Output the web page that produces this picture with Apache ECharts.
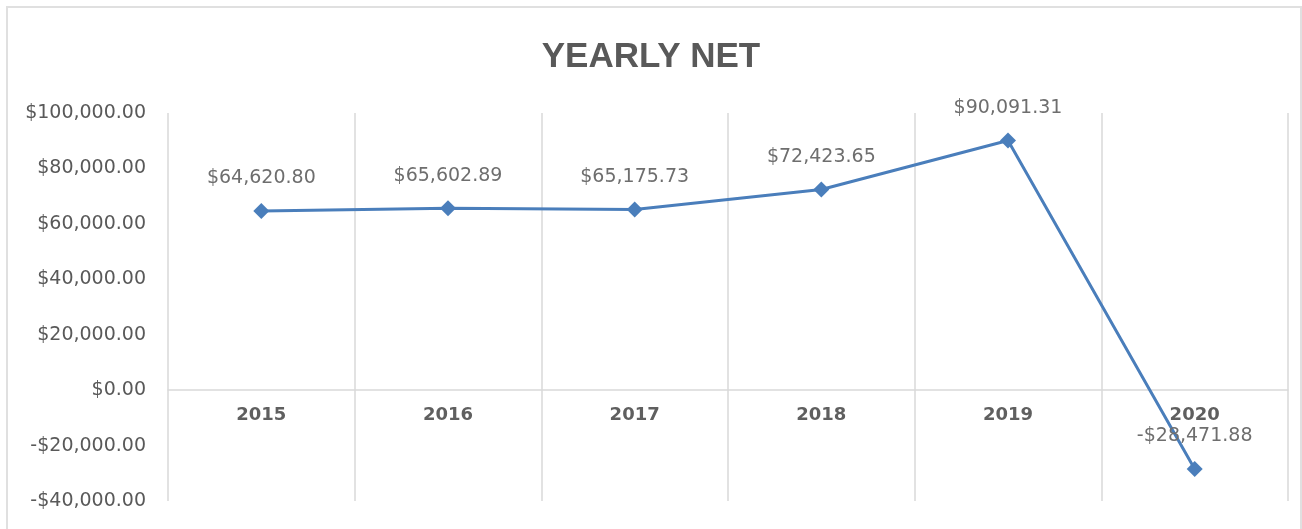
<!doctype html>
<html>
<head>
<meta charset="utf-8">
<title>Yearly Net</title>
<script src="https://cdn.jsdelivr.net/npm/echarts@6/dist/echarts.min.js"></script>
<style>
  html, body { margin: 0; padding: 0; background: #fff; }
  #frame { position: absolute; left: 6px; top: 6px; width: 1292px; height: 600px; border: 2px solid #e0e0e0; }
  #chart { position: absolute; left: 0; top: 0; width: 1302px; height: 529px; }
</style>
</head>
<body>
<div id="frame"></div>
<div id="chart"></div>
<script>
// data
let years = ['2015', '2016', '2017', '2018', '2019', '2020'];
let netValues = [64620.80, 65602.89, 65175.73, 72423.65, 90091.31, -28471.88];
let yMin = -40000, yMax = 100000, yStep = 20000;

let gridTop = 113, gridBottom = 28, chartH = 529;

function money(v) {
    let s = Math.abs(v).toLocaleString('en-US', { minimumFractionDigits: 2, maximumFractionDigits: 2 });
    return (v < 0 ? '-$' : '$') + s;
}

// the category axis sits on the zero line, labels just below it
let plotH = chartH - gridTop - gridBottom;
let belowZero = plotH * (0 - yMin) / (yMax - yMin);

let chart = echarts.init(document.getElementById('chart'));
let option = {
    backgroundColor: 'transparent',
    animation: false,
    title: {
        text: 'YEARLY NET',
        left: 'center',
        top: 35,
        textStyle: { fontFamily: 'Liberation Sans', fontSize: 35, fontWeight: 'bold', color: '#595959' }
    },
    grid: { left: 168, right: 14, top: gridTop, bottom: gridBottom },
    xAxis: [{
        type: 'category',
        data: years,
        boundaryGap: true,
        axisLine: { show: false },
        axisTick: { show: false },
        axisLabel: { show: false },
        splitLine: { show: true, lineStyle: { color: '#d9d9d9', width: 1.5 } }
    }, {
        type: 'category',
        data: years,
        position: 'bottom',
        offset: -belowZero,
        boundaryGap: true,
        axisLine: { onZero: false, lineStyle: { color: '#d9d9d9', width: 1.5 } },
        axisTick: { show: false },
        axisLabel: { margin: 16, fontFamily: 'DejaVu Sans', fontSize: 18, fontWeight: 'bold', color: '#5f5f5f' },
        splitLine: { show: false }
    }],
    yAxis: {
        type: 'value',
        min: yMin, max: yMax, interval: yStep,
        axisLine: { show: false },
        axisTick: { show: false },
        splitLine: { show: false },
        axisLabel: { margin: 22, fontFamily: 'DejaVu Sans', fontSize: 19, color: '#595959', formatter: money }
    },
    series: [{
        type: 'line',
        data: netValues,
        symbol: 'diamond',
        symbolSize: 16,
        lineStyle: { color: '#4a7ebb', width: 3 },
        itemStyle: { color: '#4a7ebb' },
        label: {
            show: true,
            position: 'top',
            distance: 15,
            fontFamily: 'DejaVu Sans',
            fontSize: 19,
            color: '#6e6e6e',
            formatter: function (p) { return money(p.value); }
        }
    }]
};
chart.setOption(option);
</script>
</body>
</html>
